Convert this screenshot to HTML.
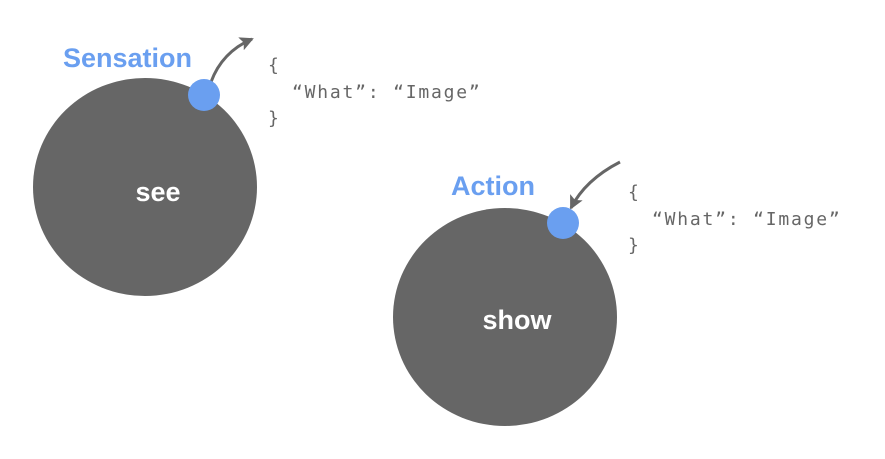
<!DOCTYPE html>
<html><head><style>body{margin:0;background:#fff}</style></head><body>
<svg width="885" height="454" xmlns="http://www.w3.org/2000/svg">
<defs><marker id="a" markerWidth="16" markerHeight="16" refX="12" refY="7" orient="auto" markerUnits="userSpaceOnUse"><path d="M0,0 L14,7 L0,14 L3,7 Z" fill="#666"/></marker></defs>
<ellipse cx="145" cy="187" rx="112" ry="109" fill="#666"/>
<ellipse cx="505" cy="317" rx="112" ry="109" fill="#666"/>
<path d="M211,82 Q222,52 252,39" stroke="#666" stroke-width="3" fill="none" marker-end="url(#a)"/>
<path d="M620,162 Q585,180 571,208" stroke="#666" stroke-width="3" fill="none" marker-end="url(#a)"/>
<circle cx="204" cy="95" r="16" fill="#6a9ff0"/>
<circle cx="563" cy="223" r="16" fill="#6a9ff0"/>
<g font-family="Liberation Sans, sans-serif" font-weight="bold" font-size="27">
<text x="63" y="67" fill="#6a9ff0">Sensation</text>
<text x="451" y="195" fill="#6a9ff0">Action</text>
<text x="158" y="201" fill="#fff" text-anchor="middle">see</text>
<text x="517" y="329" fill="#fff" text-anchor="middle">show</text>
</g>
<g font-family="DejaVu Sans Mono, monospace" font-size="18" fill="#666" letter-spacing="1.8">
<text x="268" y="71">{</text>
<text x="292" y="98">“What”: “Image”</text>
<text x="268" y="124">}</text>
<text x="628" y="198">{</text>
<text x="652" y="225">“What”: “Image”</text>
<text x="628" y="251">}</text>
</g>
</svg>
</body></html>
